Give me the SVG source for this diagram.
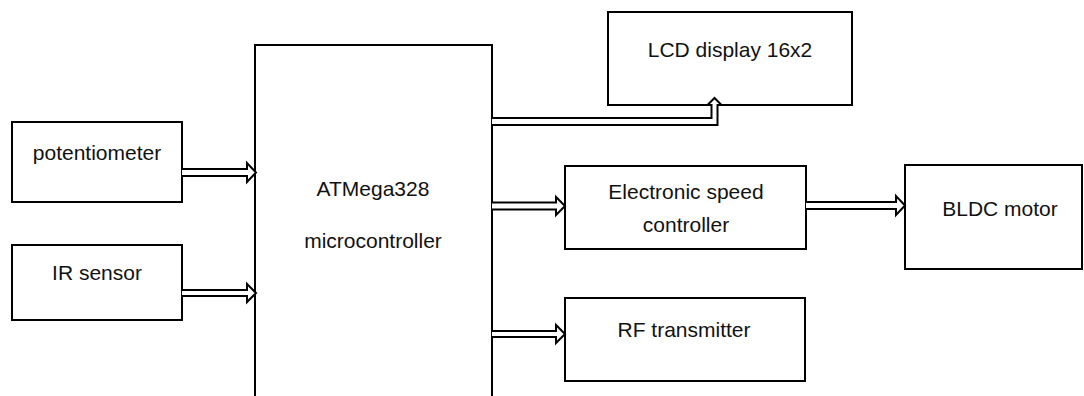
<svg xmlns="http://www.w3.org/2000/svg" width="1084" height="396" viewBox="0 0 1084 396">
<style>
.box{fill:#fff;stroke:#000;stroke-width:2}
.arr{fill:#fff;stroke:#000;stroke-width:2;stroke-linejoin:miter}
text{font-family:"Liberation Sans",Arial,sans-serif;font-size:21px;fill:#111;text-anchor:middle}
</style>
<rect width="1084" height="396" fill="#fff"/>
<g id="potentiometer"><rect class="box" x="12" y="122" width="170" height="80"/><text x="97" y="160">potentiometer</text></g>
<g id="ir-sensor"><rect class="box" x="12" y="245" width="170" height="75"/><text x="97" y="280">IR sensor</text></g>
<g id="atmega"><rect class="box" x="255" y="45" width="237" height="370"/><text x="373" y="196">ATMega328</text><text x="373" y="248">microcontroller</text></g>
<g id="lcd"><rect class="box" x="608" y="12" width="244" height="93"/><text x="730" y="57">LCD display 16x2</text></g>
<g id="esc"><rect class="box" x="565" y="166" width="241" height="83"/><text x="686" y="199">Electronic speed</text><text x="686" y="232">controller</text></g>
<g id="bldc"><rect class="box" x="905" y="165" width="177" height="104"/><text x="1000" y="216">BLDC motor</text></g>
<g id="rf"><rect class="box" x="565" y="298" width="240" height="83"/><text x="684" y="337">RF transmitter</text></g>
<g id="connectors">
<path class="arr" d="M182,169 H247 V163 L256,172.5 L247,182 V176 H182"/>
<path class="arr" d="M182,290 H247 V284 L256,293 L247,302 V296 H182"/>
<path class="arr" d="M492,202.5 H556 V197 L565,206 L556,215 V209.5 H492"/>
<path class="arr" d="M806,202 H896 V196 L905,205.5 L896,215 V209 H806"/>
<path class="arr" d="M492,331 H556 V325 L565,334 L556,343 V337 H492"/>
<path class="arr" d="M492,118 H711.5 V105 H707.5 L714.5,98 L721.5,105 H717.5 V125 H492"/>
</g>
</svg>
